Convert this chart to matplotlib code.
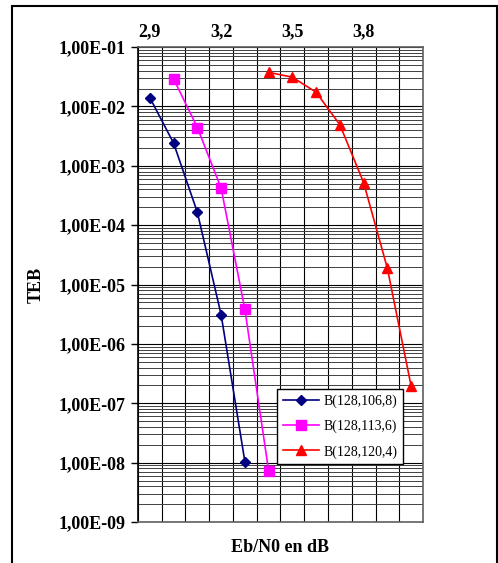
import matplotlib
matplotlib.use("Agg")
import matplotlib.pyplot as plt
import numpy as np
from matplotlib.ticker import FixedLocator, LogLocator, NullFormatter
from matplotlib.patches import Rectangle

plt.rcParams['font.family'] = ['Liberation Serif', 'DejaVu Serif']

# data
x_106 = [2.9, 3.0, 3.1, 3.2, 3.3]
teb_106 = [1.4e-2, 2.4e-3, 1.64e-4, 3.1e-6, 1.04e-8]

x_113 = [3.0, 3.1, 3.2, 3.3, 3.4]
teb_113 = [2.9e-2, 4.4e-3, 4.2e-4, 3.8e-6, 7.3e-9]

x_120 = [3.4, 3.5, 3.6, 3.7, 3.8, 3.9, 4.0]
teb_120 = [3.74e-2, 3.1e-2, 1.73e-2, 4.9e-3, 5.2e-4, 1.87e-5, 1.95e-7]

xticks = [2.9, 3.2, 3.5, 3.8]
xtick_labels = ["2,9", "3,2", "3,5", "3,8"]
xgrid = [2.85 + 0.1 * k for k in range(13)]
yticks = [1e-9, 1e-8, 1e-7, 1e-6, 1e-5, 1e-4, 1e-3, 1e-2, 1e-1]
ytick_labels = ["1,00E-09", "1,00E-08", "1,00E-07", "1,00E-06", "1,00E-05",
                "1,00E-04", "1,00E-03", "1,00E-02", "1,00E-01"]

fig = plt.figure(figsize=(4.98, 5.63), dpi=100)
ax = fig.add_axes([0.2771, 0.0728, 0.5723, 0.8437])

ax.plot(x_106, teb_106, color='#000080', marker='D', ms=5.5, lw=1.2, label="B(128,106,8)")
ax.plot(x_113, teb_113, color='#FF00FF', marker='s', ms=6.5, lw=1.2, label="B(128,113,6)")
ax.plot(x_120, teb_120, color='#FF0000', marker='^', ms=7.5, lw=1.2, label="B(128,120,4)")

ax.set_yscale('log')
ax.set_ylim(1e-9, 1e-1)
ax.set_xlim(2.85, 4.05)

ax.yaxis.set_major_locator(FixedLocator(yticks))
ax.set_yticklabels(ytick_labels, fontsize=13, fontweight='bold')
ax.yaxis.set_minor_locator(LogLocator(base=10, subs=np.arange(2, 10)))
ax.yaxis.set_minor_formatter(NullFormatter())
ax.tick_params(axis='y', which='major', direction='out', length=5, width=1, pad=4)
ax.tick_params(axis='y', which='minor', length=0)

ax.xaxis.tick_top()
ax.set_xticks(xticks)
ax.set_xticklabels(xtick_labels, fontsize=13, fontweight='bold')
ax.xaxis.set_minor_locator(FixedLocator(xgrid))
ax.tick_params(axis='x', which='both', length=0, pad=5)

ax.grid(True, which='major', axis='y', color='black', lw=0.8)
ax.grid(True, which='minor', axis='y', color='#404040', lw=0.7)
ax.grid(True, which='minor', axis='x', color='black', lw=0.8)
ax.set_axisbelow(True)

for s in ax.spines.values():
    s.set_color('#606060')
    s.set_linewidth(1.2)
ax.spines['left'].set_color('black')

ax.set_ylabel("TEB", fontsize=13, fontweight='bold', labelpad=10)
fig.text(0.562, 0.027, "Eb/N0 en dB", fontsize=13, fontweight='bold', ha='center', va='center')

leg = ax.legend(loc='lower left', bbox_to_anchor=(0.488, 0.122), fontsize=10,
                frameon=True, fancybox=False, edgecolor='black', framealpha=1,
                handlelength=2.6, borderpad=0.4, labelspacing=0.85, handletextpad=0.35,
                borderaxespad=0)
leg.get_frame().set_linewidth(1.0)

fig.patches.append(Rectangle((12 / 498, -0.02), 485 / 498, 1.02 - 6 / 563,
                             transform=fig.transFigure, fill=False,
                             edgecolor='black', lw=1.5))

fig.savefig("out.png", dpi=100)
